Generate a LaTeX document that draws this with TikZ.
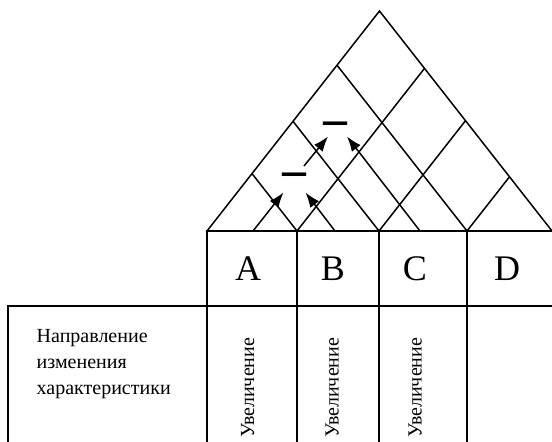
\documentclass[tikz,border=0pt]{standalone}
\usepackage{fontspec}
\setmainfont{Liberation Serif}
\usetikzlibrary{arrows.meta}
\begin{document}
\begin{tikzpicture}[x=1pt,y=-1pt,
  >={Latex[length=15pt,width=11pt]},
  roofline/.style={line width=1.5pt},
  gridline/.style={line width=2.6pt, line cap=rect},
  corr/.style={line width=1.5pt, ->},
  letter/.style={inner sep=0pt, font=\fontsize{36}{36}\selectfont},
  vtext/.style={inner sep=0pt, rotate=90, anchor=base west, font=\fontsize{20}{24}\selectfont},
  minus/.style={inner sep=0pt, anchor=base, font=\fontsize{24}{24}\selectfont}]
\useasboundingbox (0,0) rectangle (552,442);
% base points of roof / column boundaries
\coordinate (b0) at (207,231);
\coordinate (b1) at (297,231);
\coordinate (b2) at (379,231);
\coordinate (b3) at (467,231);
\coordinate (b4) at (552,231);
\coordinate (apex) at (379.5,11);
% points on the sides of the roof
\coordinate (L1) at (252,173.6);
\coordinate (L2) at (293,121.3);
\coordinate (L3) at (337,65.2);
\coordinate (R1) at (424.5,68.4);
\coordinate (R2) at (465.5,120.7);
\coordinate (R3) at (509.5,176.8);
% roof
\draw[roofline] (b0) -- (apex) -- (b4);
\draw[roofline] (b1) -- (L1) (b2) -- (L2) (b3) -- (L3);
\draw[roofline] (b1) -- (R1) (b2) -- (R2) (b3) -- (R3);
% table
\coordinate (m0) at (8,306);
\coordinate (m4) at (552,306);
\coordinate (e0) at (8,442);
\coordinate (d0) at (207,442);
\coordinate (d1) at (297,442);
\coordinate (d2) at (379,442);
\coordinate (d3) at (467,442);
\draw[gridline] (d0) -- (b0) -- (b4);
\draw[gridline] (e0) -- (m0) -- (m4);
\draw[gridline] (b1) -- (d1) (b2) -- (d2) (b3) -- (d3);
% column letters
\node[letter] (A) at (248,269) {A};
\node[letter] (B) at (333,269) {B};
\node[letter] (C) at (415,269) {C};
\node[letter] (D) at (507,269) {D};
% row label
\node[anchor=north west, align=left, inner sep=0pt, font=\fontsize{20}{26}\selectfont] (lbl) at (36.5,329.5) {Направление\\изменения\\характеристики};
\node[vtext] (vA) at (254,438) {Увеличение};
\node[vtext] (vB) at (338.5,438) {Увеличение};
\node[vtext] (vC) at (421.5,438) {Увеличение};
% correlation arrows
\coordinate (cA) at (253,231);
\coordinate (cB) at (335,231);
\coordinate (cC) at (420,231);
\coordinate (tA1) at (283.5,192.5);
\coordinate (tB) at (305.5,192.5);
\coordinate (sA2) at (304,166);
\coordinate (tA2) at (328,136.5);
\coordinate (tC) at (347,136.5);
\draw[corr] (cA) -- (tA1);
\draw[corr] (cB) -- (tB);
\draw[corr] (sA2) -- (tA2);
\draw[corr] (cC) -- (tC);
% minus signs
\node[minus] (m1) at (294.5,191) {\scalebox{1}[3]{—}};
\node[minus] (m2) at (335.3,140.5) {\scalebox{1}[3]{—}};
\end{tikzpicture}
\end{document}
